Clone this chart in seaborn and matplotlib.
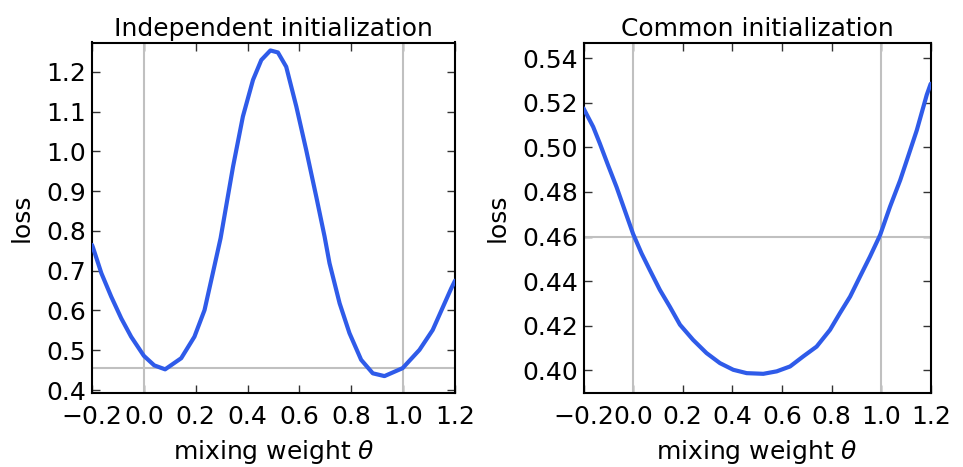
import matplotlib
matplotlib.use("Agg")
import matplotlib.pyplot as plt
import seaborn as sns
import pandas as pd

# ---- data ----
theta_indep = [-0.200, -0.196, -0.164, -0.126, -0.087, -0.049, 0.000, 0.040, 0.082,
               0.144, 0.195, 0.234, 0.266, 0.296, 0.344, 0.382, 0.421, 0.453, 0.488,
               0.517, 0.549, 0.588, 0.626, 0.665, 0.697, 0.716, 0.755, 0.793, 0.838,
               0.883, 0.928, 0.998, 1.063, 1.114, 1.185, 1.200]
loss_indep = [0.765, 0.758, 0.694, 0.635, 0.580, 0.534, 0.486, 0.462, 0.452,
              0.480, 0.534, 0.601, 0.694, 0.782, 0.962, 1.088, 1.180, 1.230, 1.254,
              1.249, 1.213, 1.113, 1.004, 0.886, 0.786, 0.719, 0.618, 0.543, 0.476,
              0.442, 0.435, 0.455, 0.501, 0.551, 0.655, 0.675]
hline_indep = 0.455

theta_common = [-0.200, -0.161, -0.134, -0.101, -0.067, -0.034, 0.000, 0.034, 0.067,
                0.108, 0.148, 0.189, 0.242, 0.296, 0.350, 0.404, 0.458, 0.525, 0.579,
                0.633, 0.686, 0.740, 0.794, 0.834, 0.875, 0.915, 0.955, 0.996, 1.036,
                1.077, 1.104, 1.144, 1.184, 1.200]
loss_common = [0.5175, 0.5092, 0.5017, 0.4920, 0.4823, 0.4719, 0.4612, 0.4525, 0.4451,
               0.4361, 0.4286, 0.4205, 0.4137, 0.4078, 0.4033, 0.4003, 0.3988, 0.3985, 0.3996,
               0.4018, 0.4063, 0.4107, 0.4182, 0.4257, 0.4331, 0.4421, 0.4510, 0.4607, 0.4734,
               0.4853, 0.4943, 0.5077, 0.5235, 0.5285]
hline_common = 0.46

titles = ["Independent initialization", "Common initialization"]
xticks = [-0.2, 0.0, 0.2, 0.4, 0.6, 0.8, 1.0, 1.2]
yticks_indep = [0.4, 0.5, 0.6, 0.7, 0.8, 0.9, 1.0, 1.1, 1.2]
yticks_common = [0.40, 0.42, 0.44, 0.46, 0.48, 0.50, 0.52, 0.54]

sns.set_style("ticks", {"xtick.direction": "in", "ytick.direction": "in",
                        "axes.edgecolor": "black"})
plt.rcParams["font.family"] = ["DejaVu Sans"]
plt.rcParams["mathtext.fontset"] = "dejavusans"
plt.rcParams["text.color"] = "black"
plt.rcParams["axes.labelcolor"] = "black"
plt.rcParams["xtick.labelcolor"] = "black"
plt.rcParams["ytick.labelcolor"] = "black"

LINE = "#2f5be9"
GRAY = "#c0c0c0"
FS = 18

fig = plt.figure(figsize=(9.63, 4.67), dpi=100)
ax1 = fig.add_axes([92 / 963, 1 - 393 / 467, (455 - 92) / 963, (393 - 42.5) / 467])
ax2 = fig.add_axes([583.5 / 963, 1 - 393 / 467, (930.7 - 583.5) / 963, (393 - 42.5) / 467])

panels = [
    (ax1, theta_indep, loss_indep, hline_indep, yticks_indep, (0.3925, 1.274), "%.1f"),
    (ax2, theta_common, loss_common, hline_common, yticks_common, (0.3899, 0.547), "%.2f"),
]

for i, (ax, th, ls, hl, yt, ylim, fmt) in enumerate(panels):
    df = pd.DataFrame({"theta": th, "loss": ls})
    ax.axvline(0.0, color=GRAY, lw=1.5, zorder=1)
    ax.axvline(1.0, color=GRAY, lw=1.5, zorder=1)
    ax.axhline(hl, color=GRAY, lw=1.5, zorder=1)
    sns.lineplot(data=df, x="theta", y="loss", ax=ax, color=LINE, lw=3.0,
                 sort=False, estimator=None, zorder=3)
    ax.set_xlim(-0.2, 1.2)
    ax.set_ylim(*ylim)
    ax.set_xticks(xticks)
    ax.set_xticklabels([("\u2212%.1f" % abs(v)) if v < 0 else "%.1f" % v for v in xticks])
    ax.set_yticks(yt)
    ax.set_yticklabels([fmt % v for v in yt])
    ax.tick_params(axis="both", which="major", direction="in", length=6, width=1,
                   top=True, right=True, labelsize=FS, color="#333333",
                   labelcolor="black")
    ax.tick_params(axis="x", pad=9)
    ax.tick_params(axis="y", pad=4)
    for sp in ax.spines.values():
        sp.set_visible(True)
        sp.set_linewidth(1.5)
        sp.set_color("black")
    ax.set_title(titles[i], fontsize=FS, pad=5, color="black")
    ax.set_xlabel(r"mixing weight $\theta$", fontsize=FS, labelpad=6, color="black")
    ax.set_ylabel("loss", fontsize=FS, labelpad=9, color="black")

fig.savefig("out.png", dpi=100)
